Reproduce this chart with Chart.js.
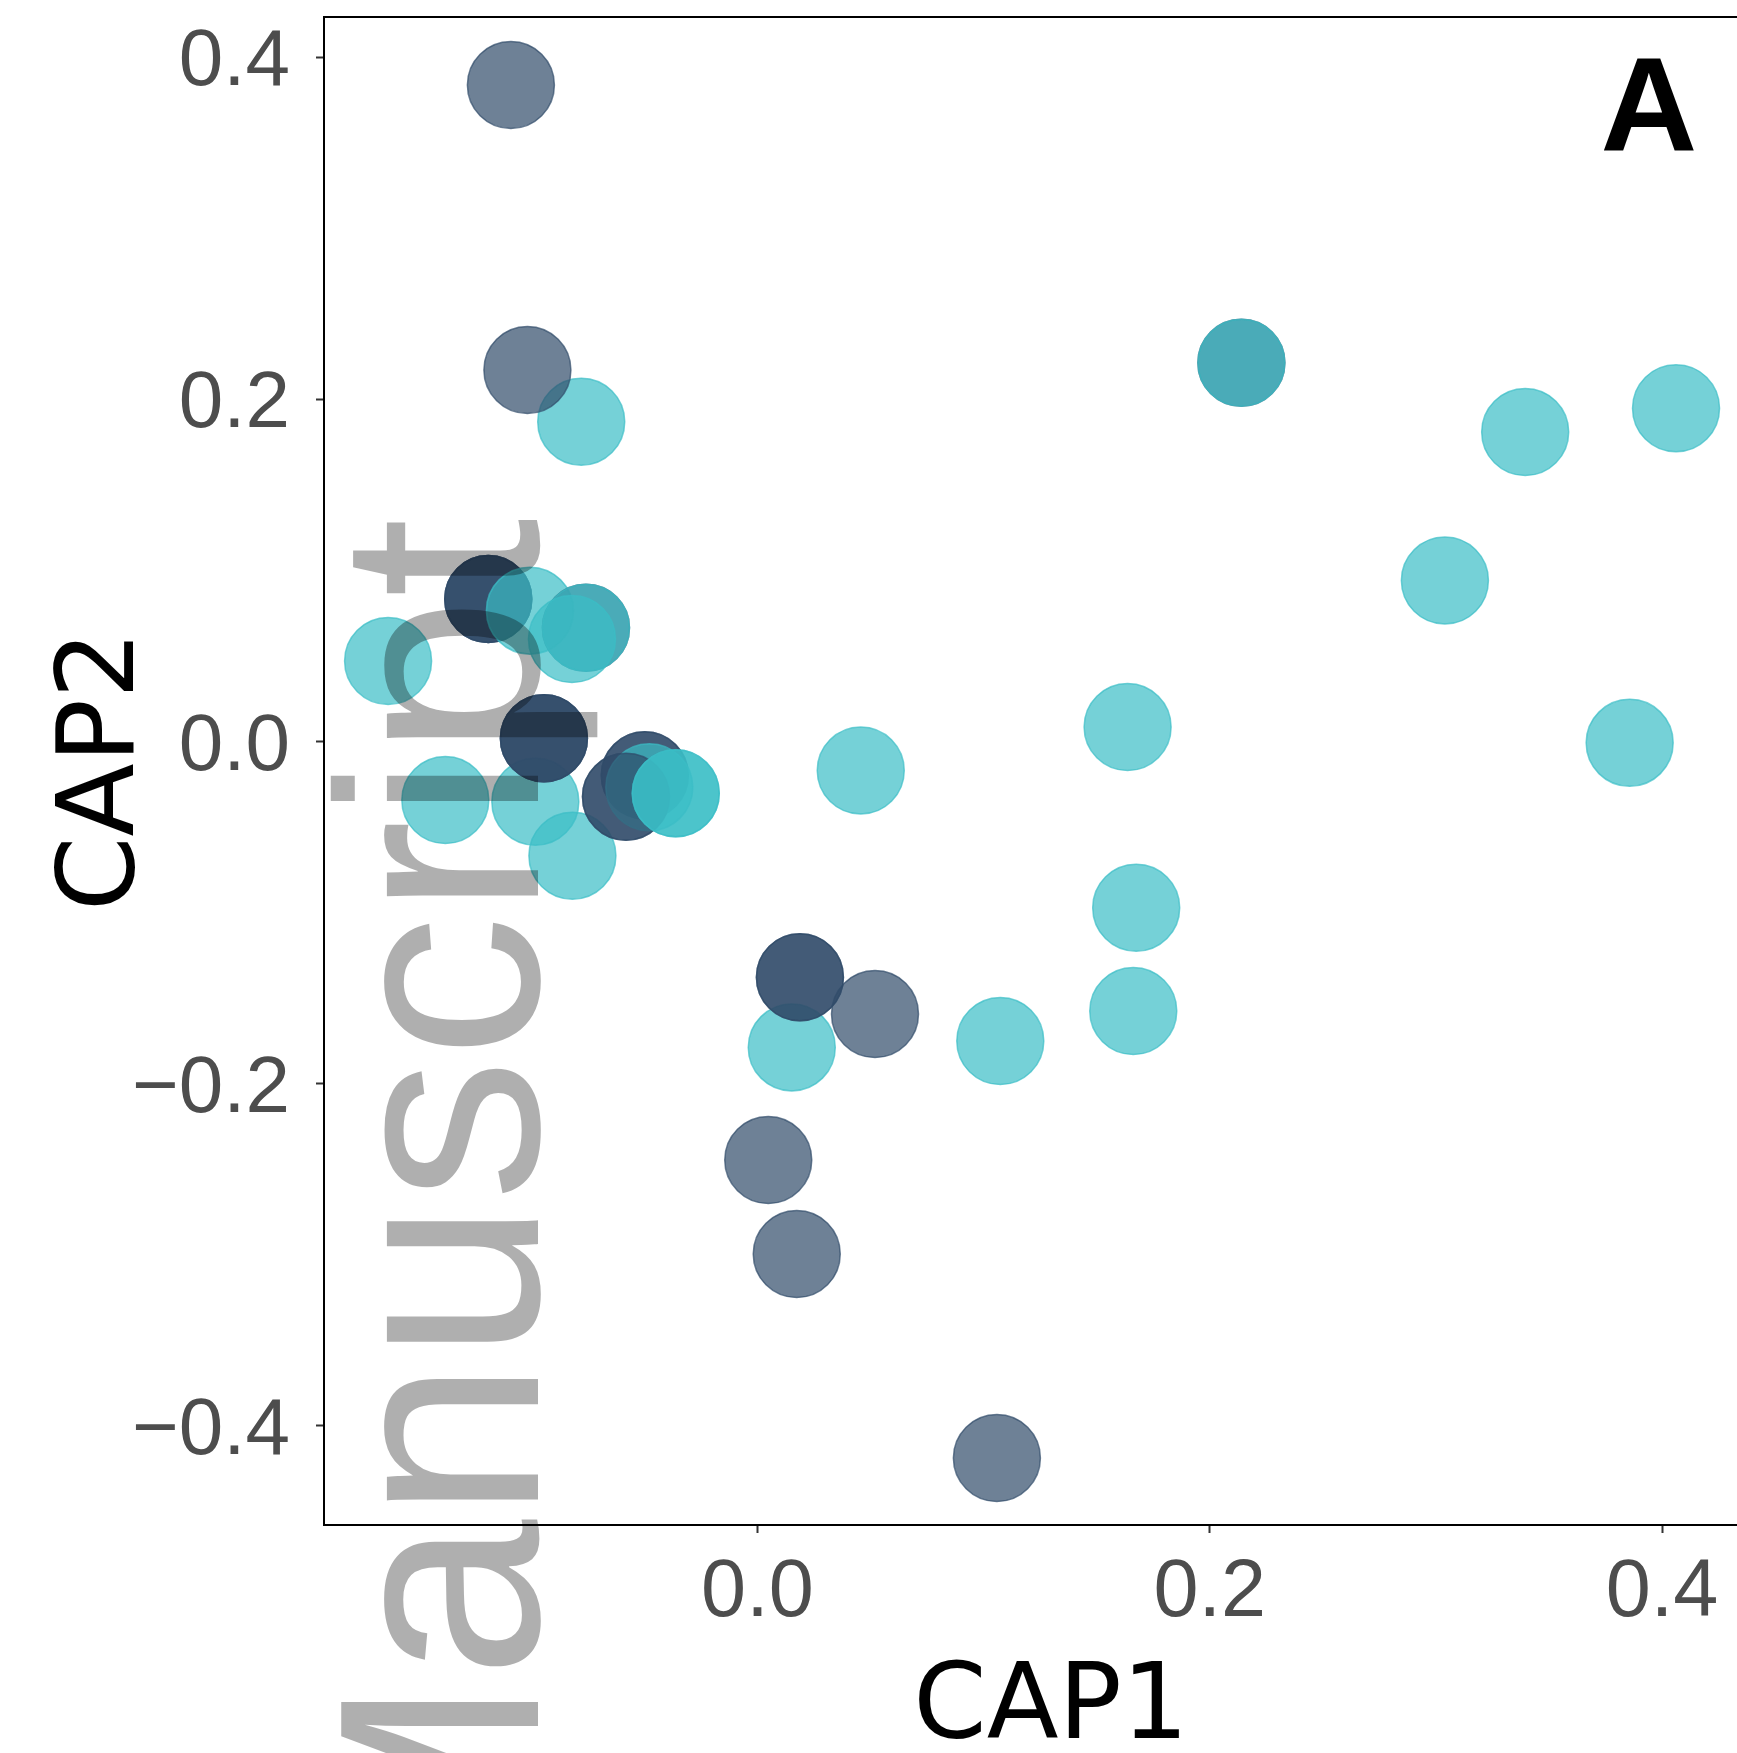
<!DOCTYPE html>
<html>
<head>
<meta charset="utf-8">
<title>CAP ordination</title>
<script src="https://cdn.jsdelivr.net/npm/chart.js@4.4.1/dist/chart.umd.min.js"></script>
<style>
  html, body { margin: 0; padding: 0; background: #fff; overflow: hidden; }
  #wrap { width: 1790px; height: 1753px; position: relative; }
</style>
</head>
<body>
<div id="wrap"><canvas id="capPlot"></canvas></div>
<script>
// === Data (in drawing order; repeats are stacked samples) ===
const capX = [
  -0.1090, -0.0779, -0.1017, -0.1190, -0.1190, -0.1190, -0.1006, -0.1633,
  -0.0758, -0.0820, -0.0758, -0.1380, -0.0982, -0.0944, -0.0944, -0.0944,
  -0.0818, -0.0498, -0.0498, -0.0581, -0.0478, -0.0581, -0.0361, -0.0361,
   0.0457,  0.0152,  0.0188,  0.0188,  0.0520,  0.0048,  0.0174,  0.1059,
   0.1074,  0.1637,  0.1675,  0.1662,  0.2140,  0.2140,  0.3040,  0.3395,
   0.3857,  0.4062
];
const capY = [
   0.3838,  0.1869,  0.2172,  0.0833,  0.0833,  0.0833,  0.0765,  0.0471,
   0.0665,  0.0599,  0.0665, -0.0342, -0.0352,  0.0019,  0.0019,  0.0019,
  -0.0668, -0.0198, -0.0198, -0.0323, -0.0268, -0.0323, -0.0303, -0.0303,
  -0.0170, -0.1788, -0.1378, -0.1378, -0.1593, -0.2446, -0.2996, -0.4188,
  -0.1751,  0.0085, -0.0972, -0.1575,  0.2214,  0.2214,  0.0941,  0.1809,
  -0.0008,  0.1948
];
// 0 = navy group, 1 = cyan group
const group = [
  0, 1, 0, 0, 0, 0, 1, 1,
  0, 1, 1, 1, 1, 0, 0, 0,
  1, 0, 0, 0, 1, 0, 1, 1,
  1, 1, 0, 0, 0, 0, 0, 0,
  1, 1, 1, 1, 0, 1, 1, 1,
  1, 1
];
const xTicks = [0, 0.2, 0.4];
const yTicks = [-0.4, -0.2, 0, 0.2, 0.4];

const groupColor = ['rgba(48,75,105,0.7)', 'rgba(59,189,198,0.7)'];
const tickFont = '"Liberation Sans", Arial, sans-serif';
const titleFont = '"DejaVu Sans", sans-serif';

const fmt = v => (v < 0 ? '\u2212' : '') + Math.abs(v).toFixed(1);

// keep the panel exactly where the axes put it (no label overhang padding)
const noPad = s => { s.paddingTop = 0; s.paddingBottom = 0; s.paddingLeft = 0; s.paddingRight = 0; };

// === Panel box top edge, panel letter and watermark ===
const panelExtras = {
  id: 'panelExtras',
  afterDraw(chart) {
    const { ctx, chartArea: a } = chart;
    ctx.save();
    ctx.strokeStyle = '#000';
    ctx.lineWidth = 2;
    ctx.beginPath();
    ctx.moveTo(a.left - 1, a.top);
    ctx.lineTo(a.right, a.top);
    ctx.stroke();

    ctx.fillStyle = '#000';
    ctx.font = 'bold 134px ' + tickFont;
    ctx.textAlign = 'center';
    ctx.textBaseline = 'alphabetic';
    ctx.fillText('A', a.right - 129, a.top + 134);

    ctx.translate(538, 518);
    ctx.rotate(-Math.PI / 2);
    ctx.font = '286px ' + tickFont;
    ctx.fillStyle = 'rgba(0,0,0,0.315)';
    ctx.textAlign = 'right';
    ctx.fillText('Manuscript', 0, 0);
    ctx.restore();
  }
};

new Chart(document.getElementById('capPlot').getContext('2d'), {
  type: 'scatter',
  data: {
    datasets: [{
      data: capX.map((x, i) => ({ x, y: capY[i] })),
      backgroundColor: group.map(g => groupColor[g]),
      borderColor: group.map(g => groupColor[g]),
      borderWidth: 1.5,
      pointRadius: 43.5,
      pointHoverRadius: 43.5
    }]
  },
  options: {
    responsive: true,
    maintainAspectRatio: false,
    animation: false,
    layout: { autoPadding: false, padding: { top: 17, right: 12, bottom: 0, left: 0 } },
    plugins: { legend: { display: false }, tooltip: { enabled: false } },
    scales: {
      x: {
        type: 'linear',
        min: -0.19164,
        max: 0.45129,
        afterBuildTicks: s => { s.ticks = xTicks.map(v => ({ value: v })); },
        afterFit: s => { s.height = 228; noPad(s); },
        ticks: {
          callback: fmt, color: '#4d4d4d', padding: 12, maxRotation: 0, autoSkip: false,
          font: { family: tickFont, size: 81 }
        },
        grid: { display: true, drawOnChartArea: false, drawTicks: true, tickLength: 8, tickColor: '#333', tickWidth: 2 },
        border: { display: true, color: '#000', width: 2 },
        title: {
          display: true, text: 'CAP1', color: '#000',
          font: { family: titleFont, size: 105, lineHeight: 0.8 },
          padding: { top: 0, bottom: 0 }
        }
      },
      y: {
        type: 'linear',
        min: -0.45799,
        max: 0.42350,
        afterBuildTicks: s => { s.ticks = yTicks.map(v => ({ value: v })); },
        afterFit: s => { s.width = 324; noPad(s); },
        ticks: {
          callback: fmt, color: '#4d4d4d', padding: 26, autoSkip: false, labelOffset: 6,
          font: { family: tickFont, size: 80 }
        },
        grid: { display: true, drawOnChartArea: false, drawTicks: true, tickLength: 8, tickColor: '#333', tickWidth: 2 },
        border: { display: true, color: '#000', width: 2 },
        title: {
          display: true, text: 'CAP2', color: '#000',
          font: { family: titleFont, size: 107, lineHeight: 1 },
          padding: { top: 52, bottom: 0 }
        }
      }
    }
  },
  plugins: [panelExtras]
});
</script>
</body>
</html>
